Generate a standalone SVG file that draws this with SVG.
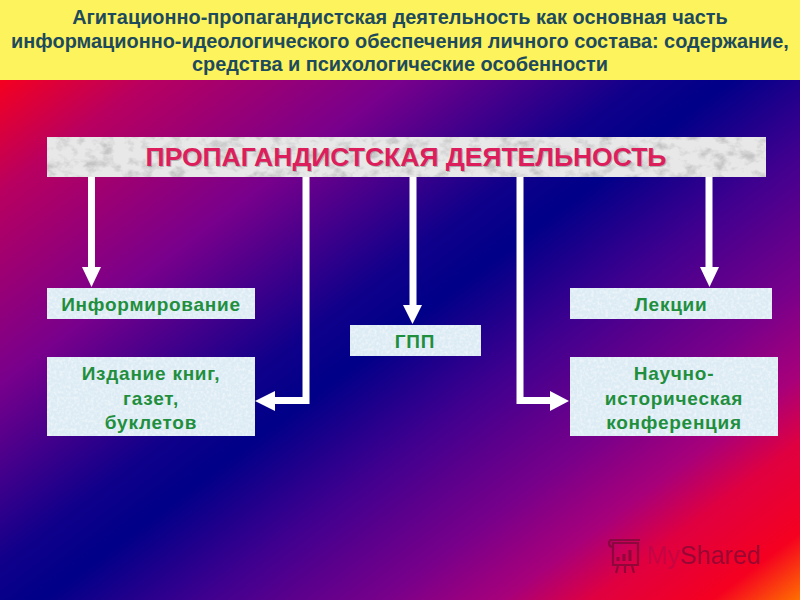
<svg xmlns="http://www.w3.org/2000/svg" width="800" height="600" viewBox="0 0 800 600">
<style>
.t{font-family:"Liberation Sans",Arial,sans-serif;font-weight:700;text-anchor:middle}
.h{font-size:19.900px;fill:#1d4a5c}
.g{font-size:19px;fill:#1f8f3e;letter-spacing:.75px}
.box{fill:#dcebf4;filter:url(#speck)}
.c{fill:none;stroke:#fff;stroke-width:7}
.a{fill:#fff}
</style>
<defs>
<linearGradient id="bg" gradientUnits="userSpaceOnUse" x1="0" y1="80" x2="541" y2="796">
<stop offset="0" stop-color="#f5001f"/>
<stop offset=".1" stop-color="#b80060"/>
<stop offset=".27" stop-color="#78008c"/>
<stop offset=".43" stop-color="#10008a"/>
<stop offset=".49" stop-color="#000088"/>
<stop offset=".6" stop-color="#40008f"/>
<stop offset=".72" stop-color="#78008a"/>
<stop offset=".8" stop-color="#a8007a"/>
<stop offset=".86" stop-color="#e00040"/>
<stop offset=".94" stop-color="#f50020"/>
<stop offset="1" stop-color="#ff7000"/>
</linearGradient>
<filter id="speck" x="0" y="0" width="1" height="1">
<feTurbulence type="fractalNoise" baseFrequency=".35" numOctaves="2" seed="4"/>
<feColorMatrix values="0 0 0 0 1 0 0 0 0 1 0 0 0 0 1 1.1 0 0 0 -.42"/>
<feComposite in2="SourceGraphic" operator="in" result="n"/>
<feMerge><feMergeNode in="SourceGraphic"/><feMergeNode in="n"/></feMerge>
</filter>
<filter id="marble" x="0" y="0" width="1" height="1">
<feTurbulence type="fractalNoise" baseFrequency=".07 .1" numOctaves="4" seed="9"/>
<feColorMatrix values="0 0 0 0 .55 0 0 0 0 .55 0 0 0 0 .55 3 0 0 0 -1.4"/>
<feComposite in2="SourceGraphic" operator="in" result="n"/>
<feMerge><feMergeNode in="SourceGraphic"/><feMergeNode in="n"/></feMerge>
</filter>
</defs>
<rect width="800" height="600" fill="url(#bg)"/>
<g id="header">
<rect width="800" height="80" fill="#fdf35c"/>
<text class="t h" x="400" y="24">Агитационно-пропагандистская деятельность как основная часть</text>
<text class="t h" x="400" y="48">информационно-идеологического обеспечения личного состава: содержание,</text>
<text class="t h" x="400" y="71">средства и психологические особенности</text>
</g>
<g id="connectors">
<path class="c" d="M91.500 177V268"/><path class="a" d="M82 267H101L91.500 287Z"/>
<path class="c" d="M306 177V400.500H274"/><path class="a" d="M275 391V411L255 401Z"/>
<path class="c" d="M413 177V306"/><path class="a" d="M403 305H422L412.500 324Z"/>
<path class="c" d="M520 177V400.500H551"/><path class="a" d="M550 391V411L569 401Z"/>
<path class="c" d="M709 177V268"/><path class="a" d="M700 267H719L709.500 287Z"/>
</g>
<g id="banner">
<rect x="47" y="137" width="719" height="40" fill="#e8e8e8" filter="url(#marble)"/>
<text class="t" x="407" y="167" font-size="26.500" fill="#8f8f8f" opacity=".6">ПРОПАГАНДИСТСКАЯ ДЕЯТЕЛЬНОСТЬ</text>
<text class="t" x="406" y="166" font-size="26.500" fill="#dc1f5c">ПРОПАГАНДИСТСКАЯ ДЕЯТЕЛЬНОСТЬ</text>
</g>
<g id="informirovanie"><rect class="box" x="47" y="288" width="208" height="31"/><text class="t g" x="151" y="311">Информирование</text></g>
<g id="izdanie"><rect class="box" x="47" y="357" width="208" height="79"/>
<text class="t g" x="151" y="380">Издание книг,</text><text class="t g" x="151" y="405">газет,</text><text class="t g" x="151" y="429">буклетов</text></g>
<g id="gpp"><rect class="box" x="350" y="325" width="131" height="31"/><text class="t g" x="415" y="348">ГПП</text></g>
<g id="lekcii"><rect class="box" x="570" y="288" width="202" height="31"/><text class="t g" x="671" y="311">Лекции</text></g>
<g id="konferenciya"><rect class="box" x="570" y="357" width="208" height="79"/>
<text class="t g" x="674" y="380">Научно-</text><text class="t g" x="674" y="405">историческая</text><text class="t g" x="674" y="429">конференция</text></g>
<g id="watermark" opacity=".75">
<g fill="none" stroke="#7a0a35" stroke-width="2.200">
<path d="M613 543H638V565H613ZM610 540H640M612 540C608 540 608 546 612 547M618 566L616 573M632 566L634 573M625 566V573"/>
<path d="M618 561V557M624 561V554M630 561V550" stroke-width="3"/>
</g>
<text x="647" y="564" font-family="'Liberation Sans',Arial,sans-serif" font-size="25" fill="#7a0a35"><tspan fill="#8a1050" opacity=".45">My</tspan>Shared</text>
</g>
</svg>
